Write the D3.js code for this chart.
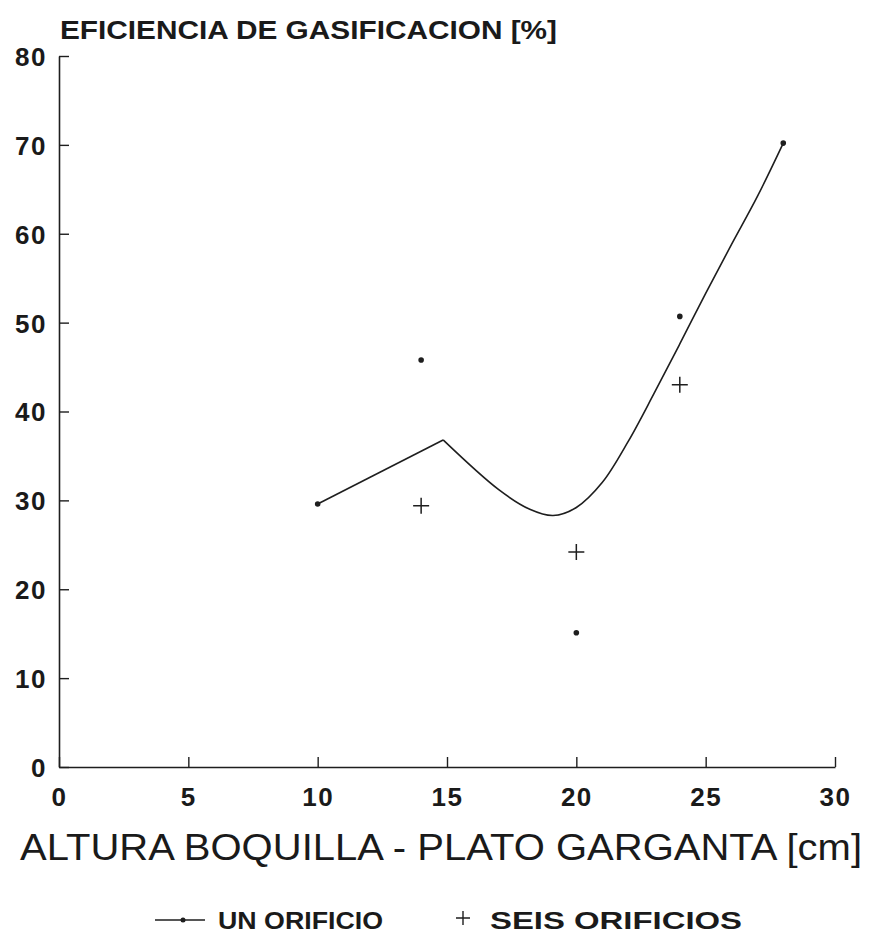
<!DOCTYPE html>
<html>
<head>
<meta charset="utf-8">
<script src="https://cdn.jsdelivr.net/npm/d3@7"></script>
<style>
  html, body { margin: 0; padding: 0; background: #fff; }
  svg { display: block; }
  text { font-family: "Liberation Sans", Arial, Helvetica, sans-serif; fill: #1a1a1a; }
</style>
</head>
<body>
<svg id="chart" width="882" height="946"></svg>
<script>
// Nozzle height vs. gasification efficiency
const xTicks = [0, 5, 10, 15, 20, 25, 30];
const yTicks = [0, 10, 20, 30, 40, 50, 60, 70, 80];

// Single-orifice measurements (dots)
const unX = [10, 14, 20, 24, 28];
const unY = [29.6, 45.8, 15.1, 50.7, 70.2];

// Six-orifice measurements (crosses)
const seisX = [14, 20, 24];
const seisY = [29.4, 24.2, 43.0];

// Trend curve for the single-orifice series
const curveX = [10, 14.85, 17.0, 18.2, 19.1, 20.0, 21.0, 22.0, 23.0, 24.0, 25.0, 26.0, 27.0, 28];
const curveY = [29.6, 36.8, 31.2, 29.0, 28.3, 29.2, 32.0, 36.6, 42.0, 47.6, 53.3, 58.8, 64.2, 70.2];

const titleY = "EFICIENCIA DE GASIFICACION [%]";
const titleX = "ALTURA BOQUILLA - PLATO GARGANTA [cm]";
const legendLabels = ["UN ORIFICIO", "SEIS ORIFICIOS"];

const ink = "#1e1e1e";
const svg = d3.select("#chart");

const x = d3.scaleLinear().domain([0, 30]).range([59, 835]);
const y = d3.scaleLinear().domain([0, 80]).range([767, 56]);

// Axes: ticks point into the plot
const xAxis = d3.axisBottom(x).tickValues(xTicks).tickSizeInner(-10).tickSizeOuter(0).tickPadding(21);
const yAxis = d3.axisLeft(y).tickValues(yTicks).tickSizeInner(-10).tickSizeOuter(0).tickPadding(12);

const gx = svg.append("g").attr("transform", `translate(0,${y(0)})`).call(xAxis);
const gy = svg.append("g").attr("transform", `translate(${x(0)},0)`).call(yAxis);

[gx, gy].forEach(g => {
  g.select(".domain").attr("stroke", ink).attr("stroke-width", 1.6);
  g.selectAll(".tick line").attr("stroke", ink).attr("stroke-width", 1.4);
  g.selectAll(".tick text")
    .attr("fill", ink)
    .style("font-family", "'Liberation Sans', Arial, sans-serif")
    .style("font-size", "26px")
    .style("font-weight", "bold")
    .style("letter-spacing", "1.5px");
});
gy.selectAll(".tick text").attr("dy", "0.36em");

// Axis titles
svg.append("text")
  .attr("x", 60).attr("y", 39)
  .attr("textLength", 497).attr("lengthAdjust", "spacingAndGlyphs")
  .style("font-size", "25px").style("font-weight", "bold")
  .text(titleY);

svg.append("text")
  .attr("x", 20).attr("y", 860)
  .attr("textLength", 842).attr("lengthAdjust", "spacingAndGlyphs")
  .style("font-size", "37px")
  .text(titleX);

// Trend curve: straight rise to the peak, then smooth
const pts = curveX.map((v, i) => [v, curveY[i]]);
const straight = d3.line().x(d => x(d[0])).y(d => y(d[1]));
const smooth = d3.line().x(d => x(d[0])).y(d => y(d[1])).curve(d3.curveCatmullRom.alpha(0.5));

svg.append("path")
  .attr("d", straight(pts.slice(0, 2)))
  .attr("fill", "none").attr("stroke", ink).attr("stroke-width", 1.6);
svg.append("path")
  .attr("d", smooth(pts.slice(1)))
  .attr("fill", "none").attr("stroke", ink).attr("stroke-width", 1.6);

// Single-orifice dots
svg.append("g").selectAll("circle")
  .data(unX.map((v, i) => [v, unY[i]]))
  .join("circle")
  .attr("cx", d => x(d[0])).attr("cy", d => y(d[1]))
  .attr("r", 2.8).attr("fill", ink);

// Six-orifice crosses
svg.append("g").selectAll("path")
  .data(seisX.map((v, i) => [v, seisY[i]]))
  .join("path")
  .attr("transform", d => `translate(${x(d[0])},${y(d[1])})`)
  .attr("d", "M-8,0H8M0,-8V8")
  .attr("stroke", ink).attr("stroke-width", 1.5).attr("fill", "none");

// Legend
const leg = svg.append("g");
leg.append("line").attr("x1", 155).attr("x2", 205).attr("y1", 920).attr("y2", 920)
  .attr("stroke", ink).attr("stroke-width", 1.4);
leg.append("circle").attr("cx", 183).attr("cy", 920).attr("r", 2.5).attr("fill", ink);
leg.append("text").attr("x", 218).attr("y", 929)
  .attr("textLength", 165).attr("lengthAdjust", "spacingAndGlyphs")
  .style("font-size", "24px").style("font-weight", "bold")
  .text(legendLabels[0]);
leg.append("path").attr("transform", "translate(463,918)")
  .attr("d", "M-7,0H7M0,-7V7").attr("stroke", ink).attr("stroke-width", 1.4);
leg.append("text").attr("x", 490).attr("y", 929)
  .attr("textLength", 252).attr("lengthAdjust", "spacingAndGlyphs")
  .style("font-size", "24px").style("font-weight", "bold")
  .text(legendLabels[1]);
</script>
</body>
</html>
